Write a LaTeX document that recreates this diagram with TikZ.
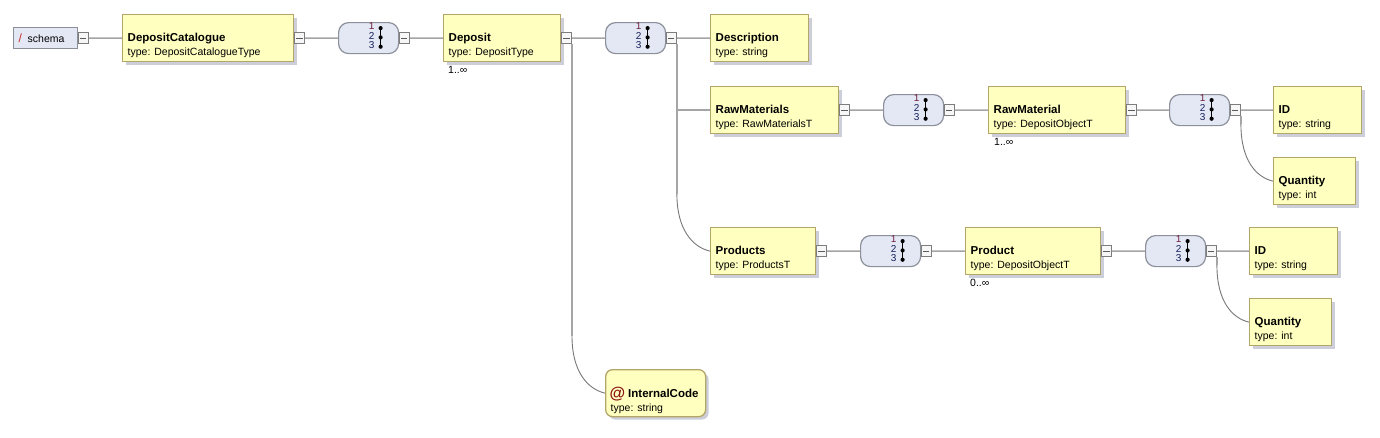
\documentclass[tikz,border=0pt]{standalone}
\usepackage{fontspec}
\setmainfont{Liberation Sans}
\usetikzlibrary{calc,shadows}
\definecolor{elfill}{RGB}{255,255,192}
\definecolor{eldraw}{RGB}{180,166,106}
\definecolor{shcol}{RGB}{204,206,218}
\definecolor{sqfill}{RGB}{228,232,244}
\definecolor{sqdraw}{RGB}{140,144,154}
\definecolor{lncol}{RGB}{165,165,165}
\definecolor{cvcol}{RGB}{120,120,120}
\definecolor{mbdraw}{RGB}{125,125,125}
\definecolor{mbdash}{RGB}{90,90,90}
\definecolor{dgone}{RGB}{110,30,60}
\definecolor{dgtwo}{RGB}{20,30,90}
\definecolor{atcol}{RGB}{140,20,20}
\definecolor{slcol}{RGB}{200,40,40}
\tikzset{
  elembox/.style={draw=eldraw, fill=elfill, line width=1.3pt, minimum height=47pt, inner sep=0pt,
    drop shadow={shadow xshift=3pt, shadow yshift=-3pt, fill=shcol, opacity=1}},
  schbox/.style={draw=sqdraw, fill=sqfill, line width=1.2pt, inner sep=0pt},
  seqb/.style={draw=sqdraw, fill=sqfill, line width=1.2pt, rounded corners=10pt,
    minimum width=60pt, minimum height=31pt, inner sep=0pt},
  minbox/.style={draw=mbdraw, fill=white!97!black, line width=0.9pt, minimum size=10.5pt, inner sep=0pt,
    path picture={\draw[line width=1.1pt, mbdash]
      ([xshift=-3.2pt]path picture bounding box.center) -- ([xshift=3.2pt]path picture bounding box.center);}},
  nm/.style={anchor=base west, inner sep=0pt, font=\fontsize{11.5}{13}\selectfont\bfseries},
  ty/.style={anchor=base west, inner sep=0pt, font=\fontsize{10.5}{12}\selectfont},
  mult/.style={anchor=base west, inner sep=0pt, font=\fontsize{10.5}{12}\selectfont},
  dgt/.style={anchor=base, inner sep=0pt, font=\fontsize{10}{10}\selectfont},
  conn/.style={draw=lncol, line width=1.5pt},
  curve/.style={draw=cvcol, line width=0.9pt},
}
\newcommand\elem[6]{%
  \node[elembox, minimum width=#4pt, anchor=north west] (#1) at (#2,#3) {};
  \node[nm] (#1-n) at ($(#2,#3)+(5.5,27)$) {#5};
  \node[ty] (#1-t) at ($(#2,#3)+(5.5,41)$) {type: #6};
}
\newcommand\clp[1]{\node[minbox] (#1-m) at ($(#1.east)+(5,0)$) {};}
\newcommand\seqbox[3]{%
  \node[seqb, anchor=north west] (#1) at (#2,#3) {};
  \node[dgt, text=dgone] (#1-a) at ($(#1.center)+(3,-8.3)$) {1};
  \node[dgt, text=dgtwo] (#1-b) at ($(#1.center)+(3,1)$) {2};
  \node[dgt, text=dgtwo] (#1-c) at ($(#1.center)+(3,10.4)$) {3};
  \draw[line width=1.4pt] ($(#1.center)+(12,-10)$) -- ($(#1.center)+(12,8.6)$);
  \fill ($(#1.center)+(12,-10)$) circle (2.1pt);
  \fill ($(#1.center)+(12,-0.7)$) circle (2.1pt);
  \fill ($(#1.center)+(12,8.6)$) circle (2.1pt);
  \node[minbox] (#1-m) at ($(#1.east)+(5,0)$) {};
}
\newcommand\branch[3]{%
  \coordinate (#3) at ($(#1.south east |- #2.west)+(0,-57)$);
  \draw[conn] (#1.south east) -- (#3);
  \draw[curve] (#3) .. controls ($(#3)+(0,36)$) and ($(#2.west)+(-17,-4)$) .. (#2.west);
}
\begin{document}
\begin{tikzpicture}[x=1pt, y=-1pt]
\useasboundingbox[fill=white] (0,0) rectangle (1380,437);

% schema
\node[schbox, minimum width=64pt, minimum height=21pt, anchor=north west] (schema) at (13,27) {};
\node[anchor=base west, inner sep=0pt, text=slcol, font=\fontsize{12}{12}\selectfont] (schema-s) at (18.5,42.5) {/};
\node[ty] (schema-t) at (27.5,42) {schema};
\clp{schema}

% elements
\elem{dc}{122}{14}{171}{DepositCatalogue}{DepositCatalogueType}
\clp{dc}
\seqbox{sqa}{338}{22}
\elem{dep}{443}{14}{117}{Deposit}{DepositType}
\clp{dep}
\node[mult] (dep-x) at (448,73) {1..∞};
\seqbox{sqb}{605}{22}
\elem{desc}{710}{14}{98}{Description}{string}
\elem{rms}{710}{86}{128}{RawMaterials}{RawMaterialsT}
\clp{rms}
\seqbox{sqc}{883}{94}
\elem{rm}{988}{86}{137}{RawMaterial}{DepositObjectT}
\clp{rm}
\node[mult] (rm-x) at (994,145) {1..∞};
\seqbox{sqd}{1169}{94}
\elem{ida}{1273}{86}{88}{ID}{string}
\elem{qa}{1273}{157}{82}{Quantity}{int}
\elem{prods}{710}{227}{105}{Products}{ProductsT}
\clp{prods}
\seqbox{sqe}{860}{235}
\elem{prod}{965}{227}{135}{Product}{DepositObjectT}
\clp{prod}
\node[mult] (prod-x) at (970,286) {0..∞};
\seqbox{sqf}{1145}{235}
\elem{idb}{1249}{227}{88}{ID}{string}
\elem{qb}{1249}{298}{82}{Quantity}{int}

% attribute
\node[elembox, rounded corners=7pt, minimum width=100pt, anchor=north west] (ic) at (605,369) {};
\node[anchor=base west, inner sep=0pt, text=atcol, font=\fontsize{16}{16}\selectfont\bfseries] (ic-at) at (609.5,398) {@};
\node[nm] (ic-n) at (628,397) {InternalCode};
\node[ty] (ic-t) at (610.5,411) {type: string};

% connectors
\draw[conn] (schema-m.east) -- (dc.west);
\draw[conn] (dc-m.east) -- (sqa.west);
\draw[conn] (sqa-m.east) -- (dep.west);
\draw[conn] (dep-m.east) -- (sqb.west);
\draw[conn] (sqb-m.east) -- (desc.west);
\draw[conn] (sqb-m.south east |- rms.west) -- (rms.west);
\draw[conn] (rms-m.east) -- (sqc.west);
\draw[conn] (sqc-m.east) -- (rm.west);
\draw[conn] (rm-m.east) -- (sqd.west);
\draw[conn] (sqd-m.east) -- (ida.west);
\draw[conn] (prods-m.east) -- (sqe.west);
\draw[conn] (sqe-m.east) -- (prod.west);
\draw[conn] (prod-m.east) -- (sqf.west);
\draw[conn] (sqf-m.east) -- (idb.west);

\branch{dep-m}{ic}{bra}
\branch{sqb-m}{prods}{brb}
\branch{sqd-m}{qa}{brc}
\branch{sqf-m}{qb}{brd}
\end{tikzpicture}
\end{document}
